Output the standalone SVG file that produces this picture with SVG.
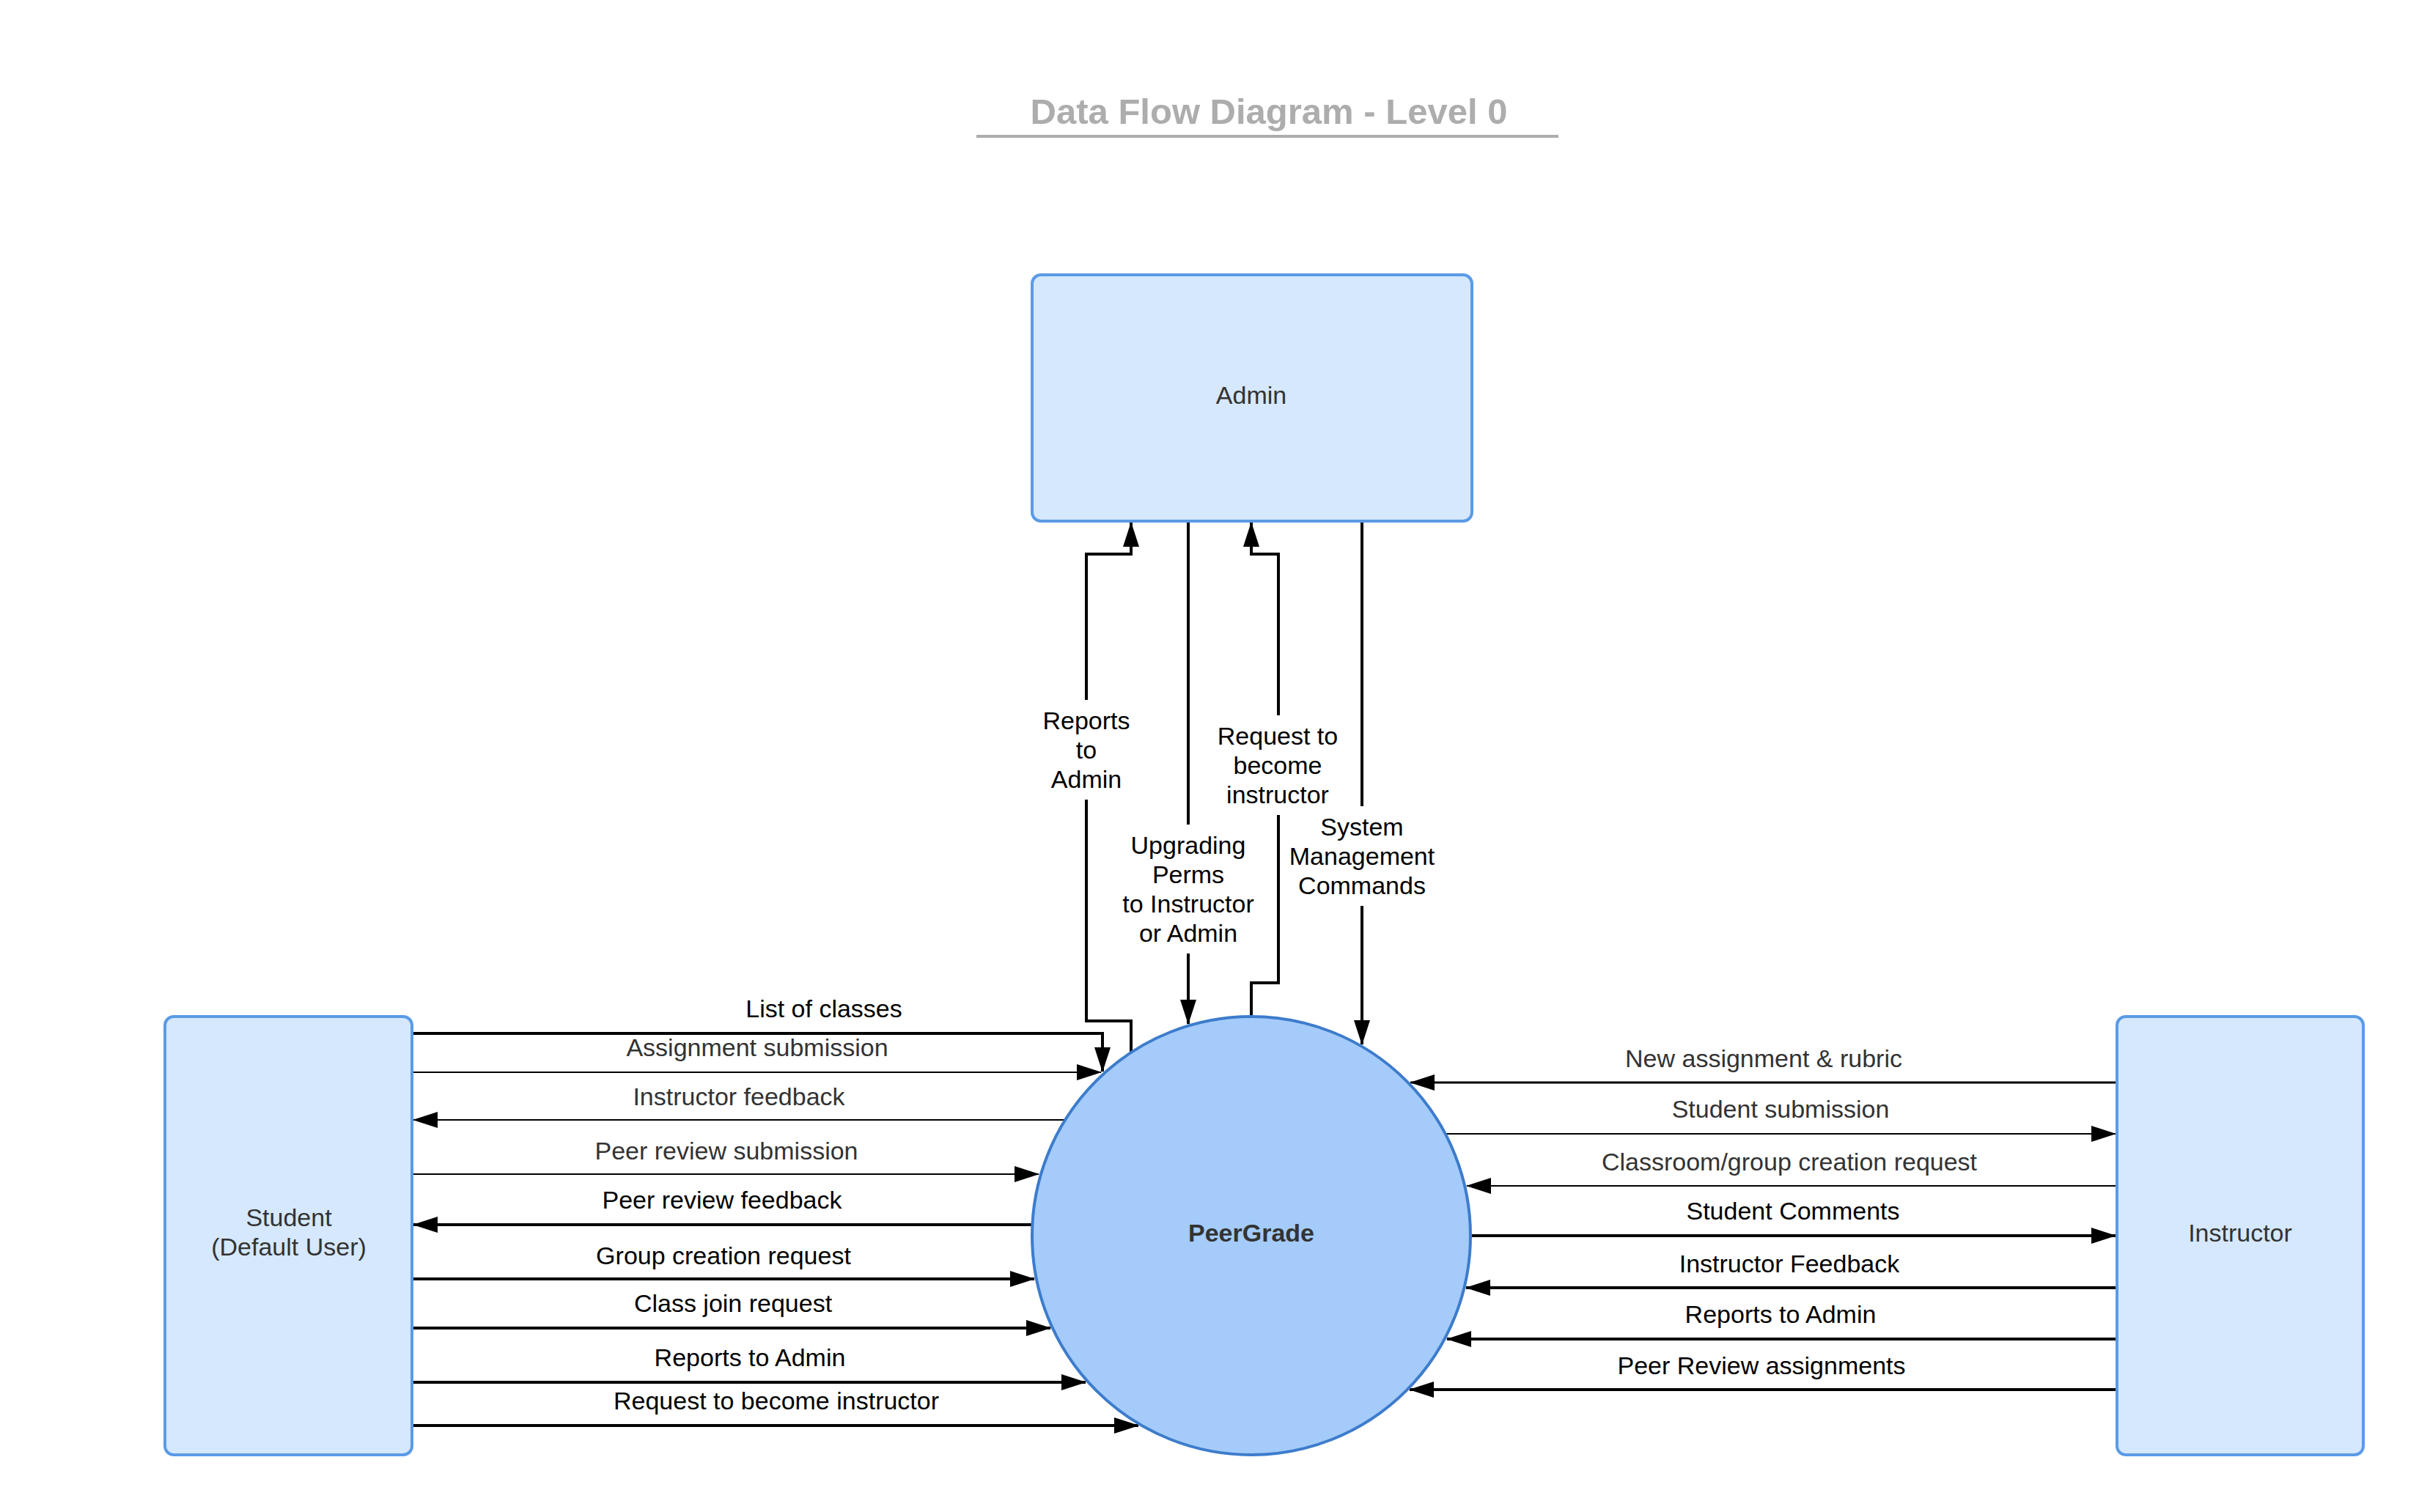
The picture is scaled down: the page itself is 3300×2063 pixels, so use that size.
<svg xmlns="http://www.w3.org/2000/svg" width="3300" height="2063" viewBox="0 0 3300 2063">
<style>
text{font-family:"Liberation Sans",Arial,sans-serif;}
.ent{fill:#d5e8fd;stroke:#5b9be6;stroke-width:4;}
.proc{fill:#a4cbf9;stroke:#3d7ccc;stroke-width:4;}
.ntext{font-size:34px;fill:#333333;text-anchor:middle;}
.c{fill:none;stroke:#000;marker-end:url(#ah);}
.tk{stroke-width:4;}
.md{stroke-width:3;}
.tn{stroke-width:2;}
.lb{font-size:34px;text-anchor:middle;fill:#000;}
.lg{font-size:34px;text-anchor:middle;fill:#333333;}
.bg{fill:#ffffff;stroke:none;}
</style>
<defs>
<marker id="ah" markerUnits="userSpaceOnUse" markerWidth="34" markerHeight="22" refX="33" refY="11" orient="auto">
<path d="M0,0 L34,11 L0,22 z" fill="#000"/>
</marker>
</defs>
<rect width="3300" height="2063" fill="#ffffff"/>
<g id="title">
<text x="1731" y="169" font-size="49" font-weight="bold" fill="#adadad" text-anchor="middle">Data Flow Diagram - Level 0</text>
<line x1="1332" y1="186" x2="2126" y2="186" stroke="#adadad" stroke-width="4"/>
</g>
<g id="connectors">
<path class="c tk" d="M1543,1435 V1393 H1482 V756 H1543 V713"/>
<path class="c tk" d="M1621,711 V1397"/>
<path class="c tk" d="M1707,1386 V1341 H1744 V756 H1707 V713"/>
<path class="c tk" d="M1858,711 V1425"/>
<rect class="bg" x="1415" y="955" width="134" height="136"/>
<rect class="bg" x="1529" y="1125" width="184" height="176"/>
<rect class="bg" x="1658" y="976" width="172" height="136"/>
<rect class="bg" x="1756" y="1100" width="204" height="136"/>
<text class="lb"><tspan x="1482" y="995">Reports</tspan><tspan x="1482" y="1035">to</tspan><tspan x="1482" y="1075">Admin</tspan></text>
<text class="lb"><tspan x="1621" y="1165">Upgrading</tspan><tspan x="1621" y="1205">Perms</tspan><tspan x="1621" y="1245">to Instructor</tspan><tspan x="1621" y="1285">or Admin</tspan></text>
<text class="lb"><tspan x="1743" y="1016">Request to</tspan><tspan x="1743" y="1056">become</tspan><tspan x="1743" y="1096">instructor</tspan></text>
<text class="lb"><tspan x="1858" y="1140">System</tspan><tspan x="1858" y="1180">Management</tspan><tspan x="1858" y="1220">Commands</tspan></text>

<path class="c tk" d="M562,1410 H1504 V1462"/>
<text class="lb" x="1124" y="1388">List of classes</text>
<path class="c tn" d="M562,1463 H1502"/>
<text class="lg" x="1033" y="1441">Assignment submission</text>
<path class="c tn" d="M1452,1528 H564"/>
<text class="lg" x="1008" y="1508">Instructor feedback</text>
<path class="c tn" d="M562,1602 H1417"/>
<text class="lg" x="991" y="1582">Peer review submission</text>
<path class="c tk" d="M1407,1671 H564"/>
<text class="lb" x="985" y="1649">Peer review feedback</text>
<path class="c tk" d="M562,1745 H1411"/>
<text class="lb" x="987" y="1725">Group creation request</text>
<path class="c tk" d="M562,1812 H1433"/>
<text class="lb" x="1000" y="1790">Class join request</text>
<path class="c tk" d="M562,1886 H1481"/>
<text class="lb" x="1023" y="1864">Reports to Admin</text>
<path class="c tk" d="M562,1945 H1553"/>
<text class="lb" x="1059" y="1923">Request to become instructor</text>

<path class="c md" d="M2888,1477 H1924"/>
<text class="lg" x="2406" y="1456">New assignment &amp; rubric</text>
<path class="c tn" d="M1973,1547 H2886"/>
<text class="lg" x="2429" y="1525">Student submission</text>
<path class="c tn" d="M2888,1618 H2001"/>
<text class="lg" x="2441" y="1597">Classroom/group creation request</text>
<path class="c tk" d="M2008,1686 H2886"/>
<text class="lb" x="2446" y="1664">Student Comments</text>
<path class="c tk" d="M2888,1757 H2000"/>
<text class="lb" x="2441" y="1736">Instructor Feedback</text>
<path class="c tk" d="M2888,1827 H1974"/>
<text class="lb" x="2429" y="1805">Reports to Admin</text>
<path class="c tk" d="M2888,1896 H1923"/>
<text class="lb" x="2403" y="1875">Peer Review assignments</text>
</g>
<g id="admin">
<rect class="ent" x="1408" y="375" width="600" height="336" rx="12"/>
<text class="ntext" x="1707" y="551">Admin</text>
</g>
<g id="student">
<rect class="ent" x="225" y="1387" width="337" height="598" rx="12"/>
<text class="ntext"><tspan x="394" y="1673">Student</tspan><tspan x="394" y="1713">(Default User)</tspan></text>
</g>
<g id="instructor">
<rect class="ent" x="2888" y="1387" width="336" height="598" rx="12"/>
<text class="ntext" x="3056" y="1694">Instructor</text>
</g>
<g id="peergrade">
<circle class="proc" cx="1707" cy="1686" r="299"/>
<text class="ntext" x="1707" y="1694" font-weight="bold">PeerGrade</text>
</g>
</svg>
